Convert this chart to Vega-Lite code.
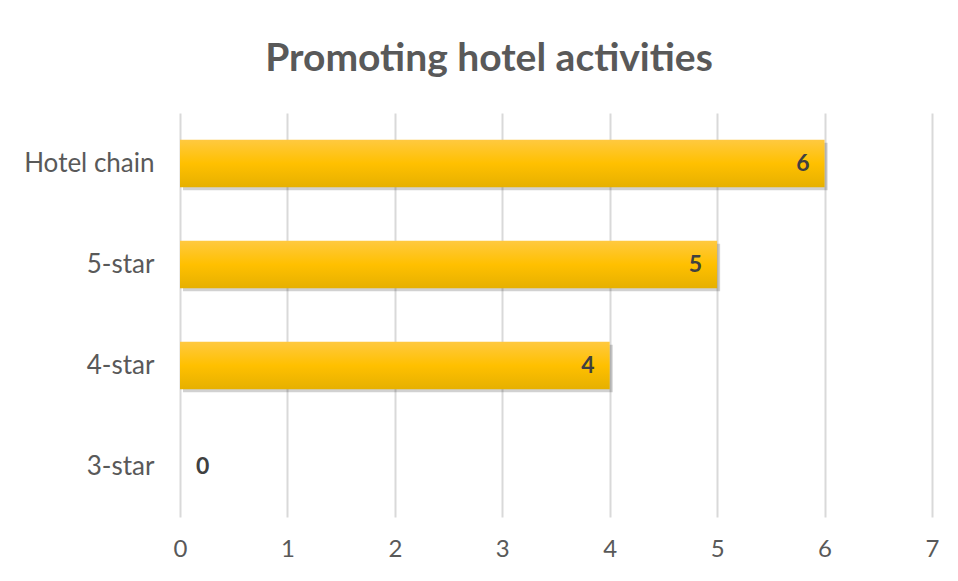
{
  "$schema": "https://vega.github.io/schema/vega-lite/v6.json",
  "width": 752,
  "height": 404,
  "autosize": {"type": "none"},
  "padding": {"left": 180, "top": 113, "right": 26, "bottom": 64},
  "background": "white",
  "title": {
    "text": "Promoting hotel activities",
    "font": "Lato",
    "fontSize": 39,
    "fontWeight": "bold",
    "color": "#595959",
    "anchor": "middle",
    "dx": -67,
    "offset": 34
  },
  "data": {
    "values": [
      {"category": "Hotel chain", "value": 6},
      {"category": "5-star", "value": 5},
      {"category": "4-star", "value": 4},
      {"category": "3-star", "value": 0}
    ]
  },
  "encoding": {
    "y": {
      "field": "category",
      "type": "nominal",
      "sort": ["Hotel chain", "5-star", "4-star", "3-star"],
      "scale": {"paddingInner": 0.53, "paddingOuter": 0.265},
      "axis": {
        "title": null,
        "ticks": false,
        "domain": false,
        "labelFont": "Lato",
        "labelFontSize": 26,
        "labelColor": "#595959",
        "labelPadding": 26
      }
    },
    "x": {
      "field": "value",
      "type": "quantitative",
      "scale": {"domain": [0, 7]},
      "axis": {
        "title": null,
        "ticks": false,
        "domain": false,
        "values": [0, 1, 2, 3, 4, 5, 6, 7],
        "labelFlush": false,
        "labelFont": "Lato",
        "labelFontSize": 24,
        "labelColor": "#595959",
        "labelPadding": 20,
        "gridColor": "#D9D9D9",
        "gridWidth": 2
      }
    }
  },
  "layer": [
    {
      "mark": {"type": "bar", "color": "#000000", "opacity": 0.18, "xOffset": 3, "yOffset": 3}
    },
    {
      "mark": {
        "type": "bar",
        "color": {
          "gradient": "linear",
          "x1": 0, "y1": 0, "x2": 0, "y2": 1,
          "stops": [
            {"offset": 0, "color": "#FFC940"},
            {"offset": 0.5, "color": "#FFC000"},
            {"offset": 1, "color": "#E6B000"}
          ]
        }
      }
    },
    {
      "transform": [{"filter": "datum.value > 0"}],
      "mark": {"type": "text", "align": "right", "dx": -15, "font": "Lato", "fontSize": 23, "fontWeight": "bold", "color": "#404040"},
      "encoding": {"text": {"field": "value", "type": "quantitative"}}
    },
    {
      "transform": [{"filter": "datum.value == 0"}],
      "mark": {"type": "text", "align": "left", "dx": 16, "font": "Lato", "fontSize": 23, "fontWeight": "bold", "color": "#404040"},
      "encoding": {"text": {"field": "value", "type": "quantitative"}}
    }
  ],
  "config": {
    "view": {"stroke": null}
  }
}
